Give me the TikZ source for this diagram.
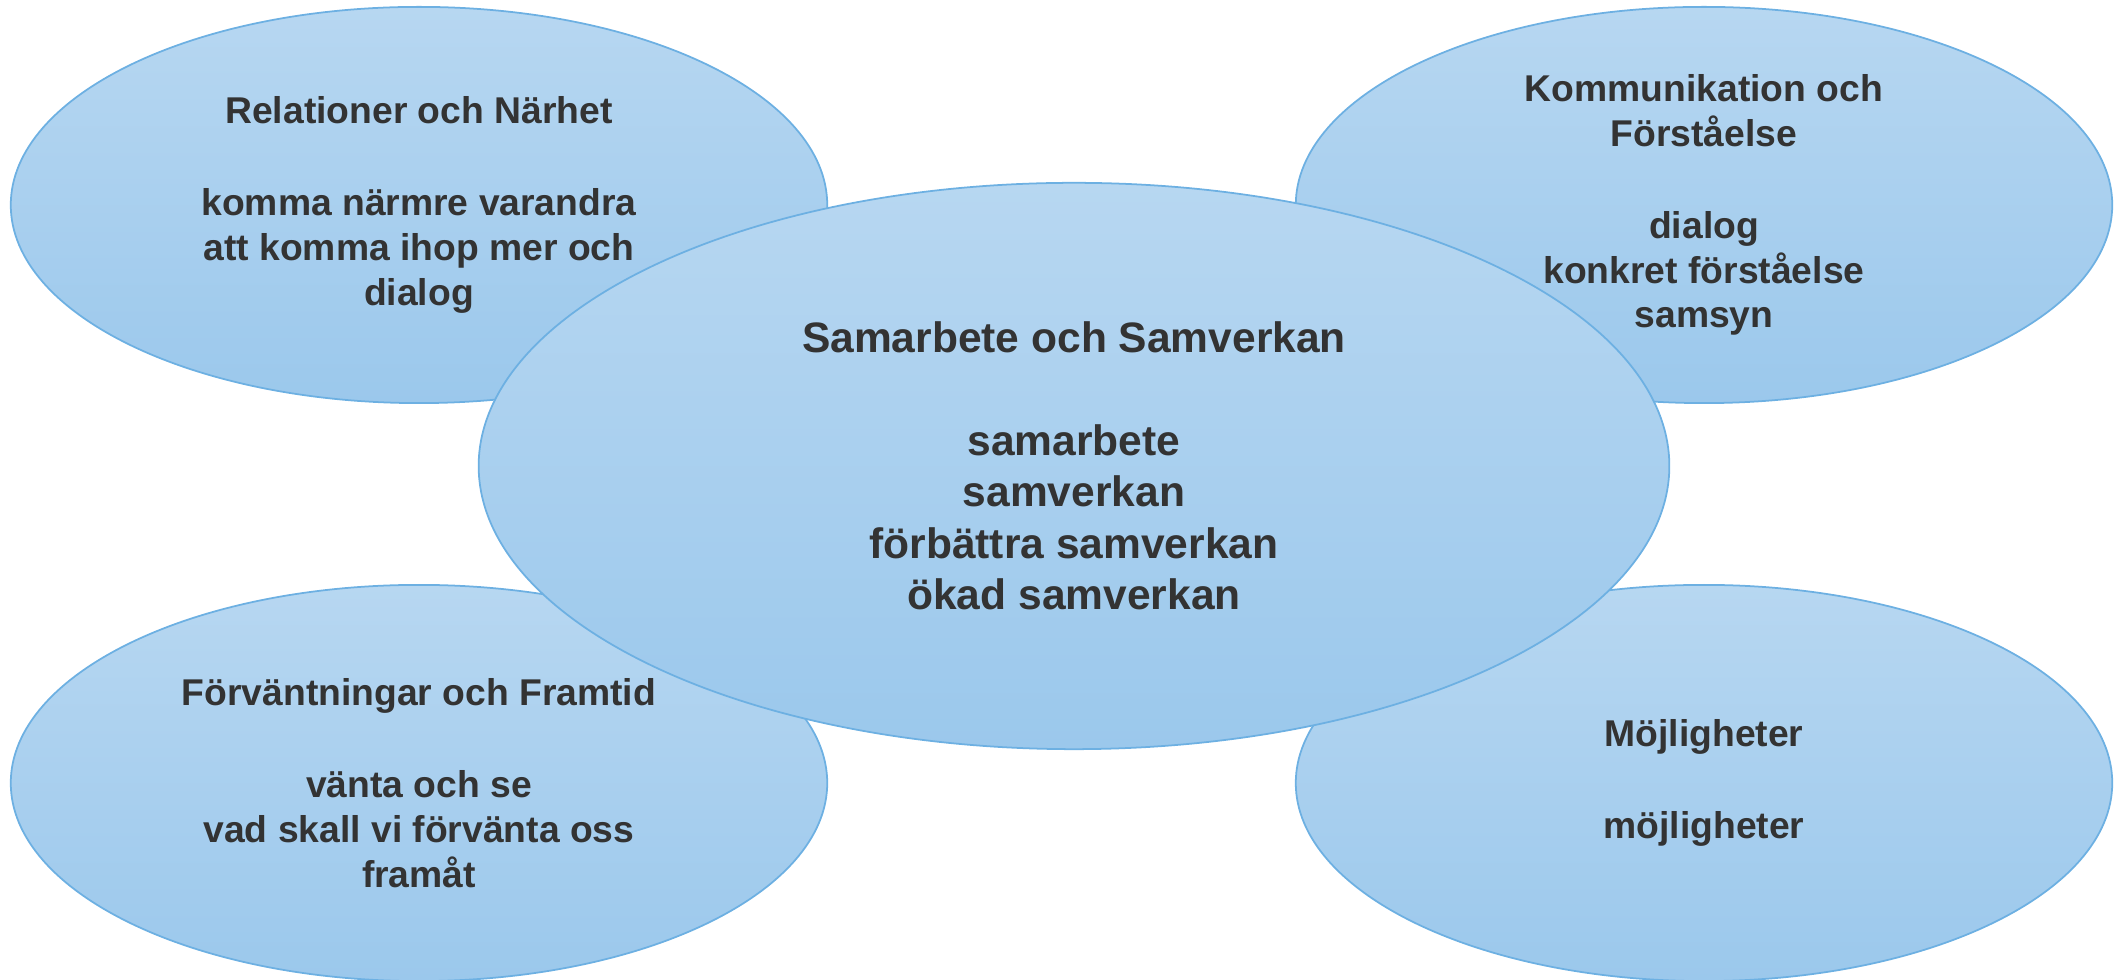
\documentclass[tikz,border=0pt]{standalone}
\usepackage{fontspec}
\setmainfont{Liberation Sans}
\usetikzlibrary{shapes.geometric}
\definecolor{txt}{HTML}{333333}
\definecolor{topc}{HTML}{B7D7F1}
\definecolor{botc}{HTML}{9BC8EC}
\definecolor{edgec}{HTML}{6DB0E2}
\tikzset{
  bubble/.style={ellipse, draw=edgec, line width=0.5pt, top color=topc, bottom color=botc,
    inner sep=0pt, align=center, text=txt, font=\bfseries\fontsize{10.6}{12.7}\selectfont,
    minimum width=8.16cm, minimum height=3.96cm},
  bigbubble/.style={bubble, minimum width=11.9cm, minimum height=5.66cm,
    font=\bfseries\fontsize{12.1}{14.6}\selectfont}
}
\begin{document}
\begin{tikzpicture}[x=0.01cm, y=-0.01cm]
\useasboundingbox (0,0) rectangle (2115,980);
\node[bubble] (rel) at (419,205) {Relationer och Närhet\\[13.5pt]komma närmre varandra\\att komma ihop mer och\\dialog};
\node[bubble] (kom) at (1704,205) {Kommunikation och\\Förståelse\\[13.5pt]dialog\\konkret förståelse\\samsyn};
\node[bubble] (for) at (419,783) {Förväntningar och Framtid\\[13.5pt]vänta och se\\vad skall vi förvänta oss\\framåt};
\node[bubble] (moj) at (1704,783) {Möjligheter\\[13.5pt]möjligheter};
\node[bigbubble] (sam) at (1074,466) {Samarbete och Samverkan\\[14.6pt]samarbete\\samverkan\\förbättra samverkan\\ökad samverkan};
\end{tikzpicture}
\end{document}
